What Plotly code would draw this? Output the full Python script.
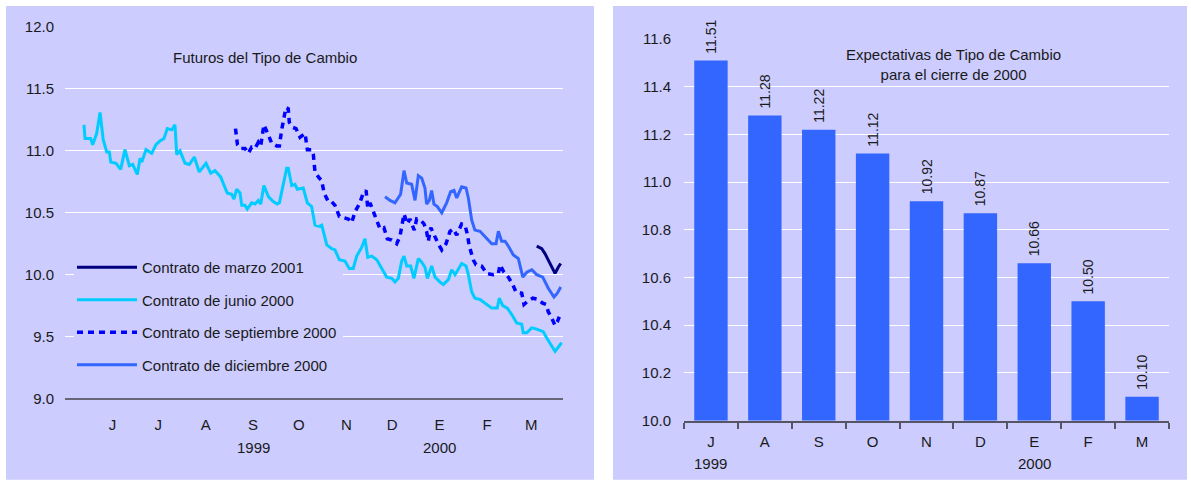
import plotly.graph_objects as go
import pandas as pd

# ---------------- data (left panel: futures, days since 1999-05-15) ----------------
junio_dias = [12.4, 13.1, 16.8, 18.1, 20.7, 22.9, 25.0, 27.3, 29.0, 29.9, 33.4, 36.4, 39.2, 42.1, 44.3, 47.3,
              49.1, 50.2, 53.0, 56.7, 59.5, 62.1, 64.7, 66.9, 69.8, 71.9, 73.1, 75.2, 78.5, 81.3, 84.6, 87.8,
              92.2, 95.3, 98.1, 101.8, 106.1, 109.0, 110.5, 112.3, 114.5, 115.6, 117.7, 119.2, 122.1, 124.3,
              126.4, 128.0, 130.1, 133.0, 136.2, 138.8, 140.2, 145.0, 146.0, 148.3, 150.4, 151.9, 155.8, 158.5,
              161.3, 163.5, 166.3, 167.9, 171.2, 174.4, 176.6, 179.4, 183.1, 185.9, 188.5, 190.8, 194.0, 196.2,
              198.0, 200.6, 203.9, 207.1, 210.4, 213.7, 215.8, 218.0, 220.2, 221.7, 223.5, 226.1, 228.2, 231.1,
              233.3, 235.4, 237.0, 239.8, 242.0, 245.3, 247.4, 250.7, 252.9, 255.1, 257.2, 259.4, 262.3, 263.8,
              266.0, 268.1, 271.4, 274.7, 279.1, 282.7, 284.0, 286.3, 289.3, 292.1, 295.4, 298.7, 299.7, 302.0,
              305.2, 308.5, 312.8, 315.0, 317.7, 320.5, 324.8]
junio_vals = [11.21, 11.10, 11.10, 11.05, 11.14, 11.31, 11.09, 10.99, 10.99, 10.91, 10.90, 10.85, 11.01, 10.88,
              10.89, 10.81, 10.94, 10.91, 11.01, 10.98, 11.05, 11.08, 11.10, 11.18, 11.17, 11.21, 10.97, 11.00,
              10.90, 10.89, 10.95, 10.83, 10.90, 10.82, 10.84, 10.79, 10.66, 10.65, 10.61, 10.69, 10.66, 10.56,
              10.56, 10.53, 10.58, 10.57, 10.60, 10.57, 10.72, 10.63, 10.59, 10.57, 10.58, 10.86, 10.86, 10.72,
              10.73, 10.69, 10.70, 10.58, 10.55, 10.40, 10.39, 10.40, 10.24, 10.21, 10.20, 10.12, 10.11, 10.05,
              10.05, 10.15, 10.22, 10.29, 10.14, 10.15, 10.12, 10.05, 9.98, 9.97, 9.94, 9.97, 10.11, 10.15, 10.07,
              10.07, 9.97, 10.13, 10.10, 10.06, 9.97, 10.07, 9.98, 9.94, 9.92, 9.96, 10.04, 10.00, 10.05, 10.09,
              10.07, 10.00, 9.86, 9.81, 9.80, 9.77, 9.73, 9.73, 9.81, 9.75, 9.73, 9.68, 9.61, 9.60, 9.53, 9.53,
              9.57, 9.56, 9.54, 9.49, 9.43, 9.38, 9.45]

sept_dias = [111.5, 112.8, 114.5, 117.7, 119.9, 122.1, 124.3, 126.4, 128.0, 130.1,
             133.0, 135.2, 138.5, 140.2, 141.7, 143.2, 144.5, 146.0, 146.7, 148.9,
             151.1, 153.7, 157.0, 158.5, 161.3, 162.4, 163.5, 166.3, 167.9, 169.4,
             172.2, 174.4, 176.6, 179.4, 182.0, 185.3, 187.5, 189.7, 192.5, 195.1,
             196.9, 198.0, 199.5, 202.1, 204.2, 206.0, 208.6, 210.8, 213.7, 216.9,
             219.1, 221.7, 223.9, 225.6, 228.4, 230.0, 232.6, 234.8, 236.5, 237.6,
             239.2, 241.3, 244.1, 246.4, 249.2, 251.8, 253.9, 256.2, 259.4, 261.6,
             263.1, 264.4, 267.0, 268.8, 272.5, 275.8, 280.1, 283.4, 284.5, 287.1,
             289.9, 292.8, 295.0, 298.7, 300.2, 303.0, 305.9, 309.5, 312.4, 314.6,
             316.1, 318.3, 320.5, 322.0, 323.3]
sept_vals = [11.18, 11.05, 11.02, 11.02, 10.98, 11.03, 11.02, 11.07, 11.04, 11.21,
             11.13, 11.06, 11.04, 11.04, 11.17, 11.26, 11.35, 11.34, 11.23, 11.19,
             11.18, 11.11, 11.14, 11.01, 11.01, 10.97, 10.83, 10.78, 10.76, 10.66,
             10.59, 10.59, 10.56, 10.47, 10.46, 10.45, 10.42, 10.51, 10.57, 10.66,
             10.68, 10.54, 10.58, 10.49, 10.43, 10.37, 10.38, 10.29, 10.28, 10.25,
             10.31, 10.49, 10.41, 10.45, 10.36, 10.45, 10.44, 10.41, 10.35, 10.27,
             10.38, 10.32, 10.25, 10.20, 10.25, 10.35, 10.37, 10.32, 10.41, 10.40,
             10.33, 10.23, 10.12, 10.08, 10.07, 10.01, 10.00, 10.01, 10.08, 10.02,
             9.98, 9.92, 9.86, 9.85, 9.76, 9.79, 9.81, 9.80, 9.77, 9.76,
             9.70, 9.65, 9.59, 9.62, 9.66]

dic_dias = [209.3, 212.6, 215.8, 219.5, 221.7, 223.5, 226.7, 228.9, 231.1, 233.3,
            235.4, 236.5, 238.3, 239.8, 241.3, 243.5, 246.4, 249.6, 252.2, 254.4,
            256.2, 259.4, 262.3, 263.8, 266.0, 268.1, 271.4, 275.8, 279.1, 281.9,
            283.4, 285.6, 287.8, 290.0, 293.2, 296.5, 299.4, 302.0, 305.3, 308.5,
            312.4, 316.1, 319.8, 322.0, 324.2]
dic_vals = [10.63, 10.60, 10.58, 10.65, 10.84, 10.74, 10.73, 10.60, 10.80, 10.78,
            10.70, 10.57, 10.60, 10.68, 10.57, 10.55, 10.50, 10.58, 10.67, 10.68,
            10.62, 10.71, 10.70, 10.62, 10.44, 10.36, 10.35, 10.29, 10.25, 10.25,
            10.35, 10.27, 10.27, 10.23, 10.16, 10.13, 9.98, 10.02, 10.04, 10.00,
            9.98, 9.89, 9.82, 9.85, 9.90]

marzo_dias = [308.5, 311.8, 313.9, 316.1, 318.3, 320.5, 322.6, 324.2]
marzo_vals = [10.23, 10.21, 10.17, 10.12, 10.07, 10.01, 10.06, 10.09]

mes_ticks = ["1999-06-15", "1999-07-15", "1999-08-15", "1999-09-15", "1999-10-15",
             "1999-11-15", "1999-12-15", "2000-01-15", "2000-02-15", "2000-03-15"]
mes_labels = ["J", "J", "A", "S", "O", "N", "D", "E", "F", "M"]
anio_pos = ["1999-09-15", "2000-01-15"]
anio_labels = ["1999", "2000"]

# ---------------- data (right panel: expectations) ----------------
exp_cats = ["J", "A", "S", "O", "N", "D", "E", "F", "M"]
exp_vals = [11.51, 11.28, 11.22, 11.12, 10.92, 10.87, 10.66, 10.50, 10.10]
exp_anio_cats = ["J", "E"]
exp_anio_labels = ["1999", "2000"]

# ---------------- styling ----------------
# photo rows map as: picture_y = V_OFF + V_SCALE * page_y (observed); columns map 1:1
V_OFF, V_SCALE = 9.0, 0.962
W, H = 1191, 495
BG = "#CCCCFF"
TXT = "#1a1a1a"
FONT = "Liberation Sans, Arial, sans-serif"


def px(x):
    return x / W


def py(y):
    return 1 - ((y - V_OFF) / V_SCALE) / H


base = pd.Timestamp("1999-05-15")


def to_dates(days):
    return [base + pd.Timedelta(hours=round(d * 24)) for d in days]


fig = go.Figure()

fig.add_trace(go.Scatter(x=to_dates(marzo_dias), y=marzo_vals, mode="lines",
                         name="Contrato de marzo 2001", legendgroup="g1",
                         line=dict(color="#000080", width=3), xaxis="x", yaxis="y"))
fig.add_trace(go.Scatter(x=to_dates(junio_dias), y=junio_vals, mode="lines",
                         name="Contrato de junio 2000", legendgroup="g2",
                         line=dict(color="#00CCFF", width=3), xaxis="x", yaxis="y"))
fig.add_trace(go.Scatter(x=to_dates(sept_dias), y=sept_vals, mode="lines",
                         name="Contrato de septiembre 2000", legendgroup="g3",
                         line=dict(color="#0000FF", width=3.5, dash="6px,5px"), xaxis="x", yaxis="y"))
fig.add_trace(go.Scatter(x=to_dates(dic_dias), y=dic_vals, mode="lines",
                         name="Contrato de diciembre 2000", legendgroup="g4",
                         line=dict(color="#3366FF", width=3), xaxis="x", yaxis="y"))

fig.add_trace(go.Bar(x=exp_cats, y=exp_vals, marker=dict(color="#3366FF", line=dict(width=0)),
                     texttemplate="\u00a0%{y:.2f}", textposition="outside", textangle=-90,
                     textfont=dict(size=14, color=TXT, family=FONT), constraintext="none",
                     cliponaxis=False, showlegend=False, xaxis="x2", yaxis="y2", width=0.62))

# left plot geometry in picture pixels
LX0, LX1, LY_TOP, LY_BOT = 65, 563, 27, 397
X_DAYS = 325.7
Y_MIN, Y_MAX = 9.0, 12.0


def day_at(xpix):
    return (xpix - LX0) / (LX1 - LX0) * X_DAYS


def val_at(ypix):
    return Y_MAX - (ypix - LY_TOP) / (LY_BOT - LY_TOP) * (Y_MAX - Y_MIN)


shapes = [
    dict(type="rect", xref="paper", yref="paper", x0=px(6), x1=px(594), y0=py(478), y1=py(6),
         fillcolor=BG, line=dict(width=0), layer="below"),
    dict(type="rect", xref="paper", yref="paper", x0=px(613), x1=px(1187), y0=py(478), y1=py(6),
         fillcolor=BG, line=dict(width=0), layer="below"),
    # legend backdrop hiding the gridlines (drawn between grid and traces)
    dict(type="rect", xref="x", yref="y",
         x0=base + pd.Timedelta(days=day_at(74)), x1=base + pd.Timedelta(days=day_at(343)),
         y0=val_at(378), y1=val_at(262),
         fillcolor=BG, line=dict(width=0), layer="between"),
]

annotations = [
    dict(text="Futuros del Tipo de Cambio", xref="paper", yref="paper", x=px(265), y=py(57),
         xanchor="center", yanchor="middle",
         showarrow=False, font=dict(size=15, color=TXT, family=FONT)),
    dict(text="Expectativas de Tipo de Cambio<br>para el cierre de 2000", xref="paper", yref="paper",
         x=px(953), y=py(64), xanchor="center", yanchor="middle",
         showarrow=False, font=dict(size=15, color=TXT, family=FONT)),
]
for pos, lab in zip(anio_pos, anio_labels):
    annotations.append(dict(text=lab, xref="x", yref="paper", x=pos, y=py(446), showarrow=False,
                            xanchor="center", yanchor="middle",
                            font=dict(size=15, color=TXT, family=FONT)))
for cat, lab in zip(exp_anio_cats, exp_anio_labels):
    annotations.append(dict(text=lab, xref="x2", yref="paper", x=cat, y=py(462), showarrow=False,
                            xanchor="center", yanchor="middle",
                            font=dict(size=15, color=TXT, family=FONT)))

fig.update_layout(
    width=W, height=H,
    margin=dict(l=0, r=0, t=0, b=0),
    paper_bgcolor="white",
    plot_bgcolor="rgba(0,0,0,0)",
    font=dict(family=FONT, size=15, color=TXT),
    shapes=shapes,
    annotations=annotations,
    showlegend=True,
    legend=dict(x=px(72), y=py(250), xanchor="left", yanchor="top", bgcolor="rgba(0,0,0,0)",
                font=dict(size=15, color=TXT, family=FONT), tracegroupgap=10,
                traceorder="grouped", itemwidth=60),
    xaxis=dict(domain=[px(LX0), px(LX1)], type="date",
               range=[base, base + pd.Timedelta(days=X_DAYS)],
               tickmode="array", tickvals=mes_ticks, ticktext=mes_labels,
               showgrid=False, zeroline=False, showline=True, linecolor="#666677", linewidth=2,
               ticks="", ticklabelstandoff=12, tickfont=dict(size=15), anchor="y"),
    yaxis=dict(domain=[py(LY_BOT), py(LY_TOP)], range=[Y_MIN, Y_MAX], dtick=0.5, tick0=9.0,
               tickformat=".1f", showgrid=True, gridcolor="white", gridwidth=1.2,
               zeroline=False, showline=False, ticks="", ticklabelstandoff=10,
               tickfont=dict(size=15), anchor="x"),
    xaxis2=dict(domain=[px(684), px(1169)], type="category",
                showgrid=False, zeroline=False, showline=True, linecolor="#555566", linewidth=2,
                ticks="outside", tickson="boundaries", ticklen=6, tickcolor="#555566", tickwidth=1.5,
                ticklabelstandoff=6, tickfont=dict(size=15), anchor="y2"),
    yaxis2=dict(domain=[py(419), py(39)], range=[10.0, 11.6], dtick=0.2, tick0=10.0,
                tickformat=".1f", showgrid=True, gridcolor="white", gridwidth=1.2,
                zeroline=False, showline=False, ticks="", ticklabelstandoff=12,
                tickfont=dict(size=15), anchor="x2"),
    bargap=0.38,
)

fig.write_html("out.html", config={"displayModeBar": False},
               post_script="document.body.style.margin='0px';")
